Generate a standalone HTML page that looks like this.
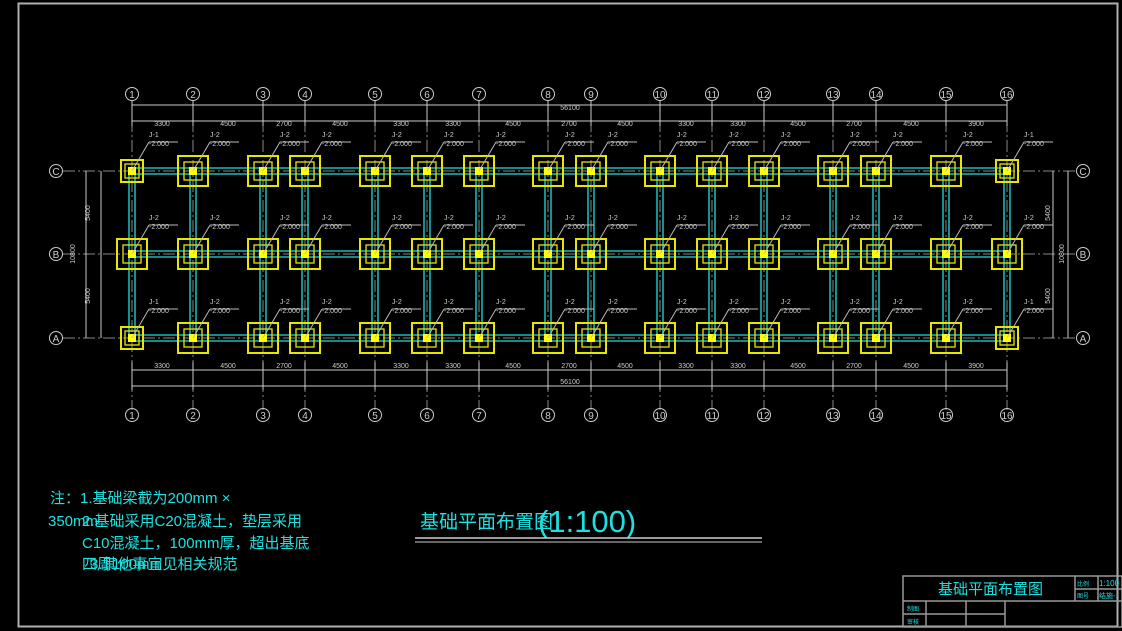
<!DOCTYPE html>
<html><head><meta charset="utf-8"><style>
html,body{margin:0;padding:0;background:#000;width:1122px;height:631px;overflow:hidden}
svg{display:block}
.t{font-family:"Liberation Sans","Noto Sans CJK SC",sans-serif}
.lb{fill:#ccc;font-size:7px;font-family:"Liberation Sans",sans-serif}
.axt{fill:#ccc;font-size:10px;font-family:"Liberation Sans",sans-serif;text-anchor:middle}
.n{fill:#1ee0e0;font-size:15px;font-family:"Liberation Sans","Noto Sans CJK SC",sans-serif}
</style></head><body>
<svg id="s" width="1122" height="631" viewBox="0 0 1122 631" xmlns="http://www.w3.org/2000/svg">
<rect x="18.5" y="3.5" width="1099" height="623" fill="none" stroke="#b0b0b0" stroke-width="2"/>
<g id="geo"></g>
<g id="axes">
<g class="axt">
<text x="132" y="98">1</text><text x="193" y="98">2</text><text x="263" y="98">3</text><text x="305" y="98">4</text><text x="375" y="98">5</text><text x="427" y="98">6</text><text x="479" y="98">7</text><text x="548" y="98">8</text><text x="591" y="98">9</text><text x="660" y="98">10</text><text x="712" y="98">11</text><text x="764" y="98">12</text><text x="833" y="98">13</text><text x="876" y="98">14</text><text x="946" y="98">15</text><text x="1007" y="98">16</text>
<text x="132" y="419">1</text><text x="193" y="419">2</text><text x="263" y="419">3</text><text x="305" y="419">4</text><text x="375" y="419">5</text><text x="427" y="419">6</text><text x="479" y="419">7</text><text x="548" y="419">8</text><text x="591" y="419">9</text><text x="660" y="419">10</text><text x="712" y="419">11</text><text x="764" y="419">12</text><text x="833" y="419">13</text><text x="876" y="419">14</text><text x="946" y="419">15</text><text x="1007" y="419">16</text>
<text x="56" y="175">C</text><text x="56" y="258">B</text><text x="56" y="342">A</text>
<text x="1083" y="175">C</text><text x="1083" y="258">B</text><text x="1083" y="342">A</text>
</g>
<g class="lb" text-anchor="middle">
<text x="570" y="110">56100</text><text x="570" y="384">56100</text>
<text x="162" y="126">3300</text><text x="228" y="126">4500</text><text x="284" y="126">2700</text><text x="340" y="126">4500</text><text x="401" y="126">3300</text><text x="453" y="126">3300</text><text x="513" y="126">4500</text><text x="569" y="126">2700</text><text x="625" y="126">4500</text><text x="686" y="126">3300</text><text x="738" y="126">3300</text><text x="798" y="126">4500</text><text x="854" y="126">2700</text><text x="911" y="126">4500</text><text x="976" y="126">3900</text>
<text x="162" y="368">3300</text><text x="228" y="368">4500</text><text x="284" y="368">2700</text><text x="340" y="368">4500</text><text x="401" y="368">3300</text><text x="453" y="368">3300</text><text x="513" y="368">4500</text><text x="569" y="368">2700</text><text x="625" y="368">4500</text><text x="686" y="368">3300</text><text x="738" y="368">3300</text><text x="798" y="368">4500</text><text x="854" y="368">2700</text><text x="911" y="368">4500</text><text x="976" y="368">3900</text>
<text transform="translate(90,213) rotate(-90)">5400</text><text transform="translate(90,296) rotate(-90)">5400</text><text transform="translate(75,254) rotate(-90)">10800</text>
<text transform="translate(1050,213) rotate(-90)">5400</text><text transform="translate(1050,296) rotate(-90)">5400</text><text transform="translate(1064,254) rotate(-90)">10800</text>
</g>
</g>
<g class="lb">
<text x="149" y="137">J-1</text><text x="149" y="146">-2.000</text>
<text x="210" y="137">J-2</text><text x="210" y="146">-2.000</text>
<text x="280" y="137">J-2</text><text x="280" y="146">-2.000</text>
<text x="322" y="137">J-2</text><text x="322" y="146">-2.000</text>
<text x="392" y="137">J-2</text><text x="392" y="146">-2.000</text>
<text x="444" y="137">J-2</text><text x="444" y="146">-2.000</text>
<text x="496" y="137">J-2</text><text x="496" y="146">-2.000</text>
<text x="565" y="137">J-2</text><text x="565" y="146">-2.000</text>
<text x="608" y="137">J-2</text><text x="608" y="146">-2.000</text>
<text x="677" y="137">J-2</text><text x="677" y="146">-2.000</text>
<text x="729" y="137">J-2</text><text x="729" y="146">-2.000</text>
<text x="781" y="137">J-2</text><text x="781" y="146">-2.000</text>
<text x="850" y="137">J-2</text><text x="850" y="146">-2.000</text>
<text x="893" y="137">J-2</text><text x="893" y="146">-2.000</text>
<text x="963" y="137">J-2</text><text x="963" y="146">-2.000</text>
<text x="1024" y="137">J-1</text><text x="1024" y="146">-2.000</text>
<text x="149" y="220">J-2</text><text x="149" y="229">-2.000</text>
<text x="210" y="220">J-2</text><text x="210" y="229">-2.000</text>
<text x="280" y="220">J-2</text><text x="280" y="229">-2.000</text>
<text x="322" y="220">J-2</text><text x="322" y="229">-2.000</text>
<text x="392" y="220">J-2</text><text x="392" y="229">-2.000</text>
<text x="444" y="220">J-2</text><text x="444" y="229">-2.000</text>
<text x="496" y="220">J-2</text><text x="496" y="229">-2.000</text>
<text x="565" y="220">J-2</text><text x="565" y="229">-2.000</text>
<text x="608" y="220">J-2</text><text x="608" y="229">-2.000</text>
<text x="677" y="220">J-2</text><text x="677" y="229">-2.000</text>
<text x="729" y="220">J-2</text><text x="729" y="229">-2.000</text>
<text x="781" y="220">J-2</text><text x="781" y="229">-2.000</text>
<text x="850" y="220">J-2</text><text x="850" y="229">-2.000</text>
<text x="893" y="220">J-2</text><text x="893" y="229">-2.000</text>
<text x="963" y="220">J-2</text><text x="963" y="229">-2.000</text>
<text x="1024" y="220">J-2</text><text x="1024" y="229">-2.000</text>
<text x="149" y="304">J-1</text><text x="149" y="313">-2.000</text>
<text x="210" y="304">J-2</text><text x="210" y="313">-2.000</text>
<text x="280" y="304">J-2</text><text x="280" y="313">-2.000</text>
<text x="322" y="304">J-2</text><text x="322" y="313">-2.000</text>
<text x="392" y="304">J-2</text><text x="392" y="313">-2.000</text>
<text x="444" y="304">J-2</text><text x="444" y="313">-2.000</text>
<text x="496" y="304">J-2</text><text x="496" y="313">-2.000</text>
<text x="565" y="304">J-2</text><text x="565" y="313">-2.000</text>
<text x="608" y="304">J-2</text><text x="608" y="313">-2.000</text>
<text x="677" y="304">J-2</text><text x="677" y="313">-2.000</text>
<text x="729" y="304">J-2</text><text x="729" y="313">-2.000</text>
<text x="781" y="304">J-2</text><text x="781" y="313">-2.000</text>
<text x="850" y="304">J-2</text><text x="850" y="313">-2.000</text>
<text x="893" y="304">J-2</text><text x="893" y="313">-2.000</text>
<text x="963" y="304">J-2</text><text x="963" y="313">-2.000</text>
<text x="1024" y="304">J-1</text><text x="1024" y="313">-2.000</text>
</g>
<text class="n" x="50" y="503">注：1.基础梁截为200mm ×</text>
<text class="n" x="48" y="526">350mm</text>
<text class="n" x="82" y="526">2.基础采用C20混凝土，垫层采用</text>
<text class="n" x="82" y="548">C10混凝土，100mm厚，超出基底</text>
<text class="n" x="82" y="569">四周100mm</text>
<text class="n" x="90" y="569">3.其他事宜见相关规范</text>
<text x="420" y="528" fill="#1ee0e0" font-size="19" class="t">基础平面布置图</text>
<text x="538" y="532" fill="#1ee0e0" font-size="31" class="t">(1:100)</text>
<line x1="415" y1="538" x2="762" y2="538" stroke="#ccc" stroke-width="1.5"/>
<line x1="415" y1="542" x2="762" y2="542" stroke="#ccc" stroke-width="1"/>
<g fill="none" stroke="#999" stroke-width="1.5">
<rect x="903" y="576" width="219" height="51"/>
<line x1="903" y1="601" x2="1122" y2="601"/>
<line x1="1075" y1="576" x2="1075" y2="601"/>
<line x1="1098" y1="576" x2="1098" y2="601"/>
<line x1="1075" y1="589" x2="1122" y2="589"/>
<line x1="903" y1="614" x2="1005" y2="614"/>
<line x1="926" y1="601" x2="926" y2="627"/>
<line x1="966" y1="601" x2="966" y2="627"/>
<line x1="1005" y1="601" x2="1005" y2="627"/>
</g>
<text x="938" y="594" fill="#1ee0e0" font-size="15" class="t">基础平面布置图</text>
<text x="1099" y="586" fill="#1ee0e0" font-size="8" class="t">1:100</text>
<text x="1099" y="598" fill="#1ee0e0" font-size="7" class="t">结施-1</text>
<text x="1077" y="586" fill="#1ee0e0" font-size="6" class="t">比例</text>
<text x="1077" y="598" fill="#1ee0e0" font-size="6" class="t">图号</text>
<text x="907" y="611" fill="#1ee0e0" font-size="6" class="t">制图</text>
<text x="907" y="624" fill="#1ee0e0" font-size="6" class="t">审核</text>
</svg>
<script>
(function(){
var X=[132,193,263,305,375,427,479,548,591,660,712,764,833,876,946,1007];
var Y=[171,254,338];
var ns="http://www.w3.org/2000/svg",g=document.getElementById('geo');
function el(t,a){var e=document.createElementNS(ns,t);for(var k in a)e.setAttribute(k,a[k]);g.appendChild(e);return e;}
function L(x1,y1,x2,y2,c,w,d){var a={x1:x1,y1:y1,x2:x2,y2:y2,stroke:c,'stroke-width':w||1};if(d)a['stroke-dasharray']=d;el('line',a);}
X.forEach(function(x){L(x,100,x,410,'#888',1,'12 3 2 3');el('circle',{cx:x,cy:94,r:6.5,fill:'none',stroke:'#ccc'});el('circle',{cx:x,cy:415,r:6.5,fill:'none',stroke:'#ccc'});
 L(x,101,x,126,'#ccc',1);L(x,362,x,390,'#ccc',1);});
Y.forEach(function(y){L(63,y,1076,y,'#888',1,'12 3 2 3');el('circle',{cx:56,cy:y,r:6.5,fill:'none',stroke:'#ccc'});el('circle',{cx:1083,cy:y,r:6.5,fill:'none',stroke:'#ccc'});});
L(132,105,1007,105,'#ccc');L(132,121,1007,121,'#ccc');L(132,370,1007,370,'#ccc');L(132,386,1007,386,'#ccc');
L(86,171,86,338,'#ccc');L(101,171,101,338,'#ccc');L(1053,171,1053,338,'#ccc');L(1068,171,1068,338,'#ccc');
Y.forEach(function(y){L(132,y-3,1007,y-3,'#1ee0e0',1.3);L(132,y+3,1007,y+3,'#1ee0e0',1.3);});
X.forEach(function(x){L(x-3,171,x-3,338,'#1ee0e0',1.3);L(x+3,171,x+3,338,'#1ee0e0',1.3);});
Y.forEach(function(y,ri){X.forEach(function(x,ci){
 var edge=(ci==0||ci==15),corner=edge&&ri!=1;
 var o=corner?11:15,i=corner?7:9;
 el('rect',{x:x-o,y:y-o,width:2*o,height:2*o,fill:'none',stroke:'#e6e600','stroke-width':2});
 el('rect',{x:x-i,y:y-i,width:2*i,height:2*i,fill:'none',stroke:'#e6e600','stroke-width':1.3});
 el('rect',{x:x-4,y:y-4,width:8,height:8,fill:'#ffff00'});
 L(x,y,x+17,y-29,'#bbb',1);L(x+17,y-29,x+46,y-29,'#bbb',1);
});});
})();
</script>
</body></html>
